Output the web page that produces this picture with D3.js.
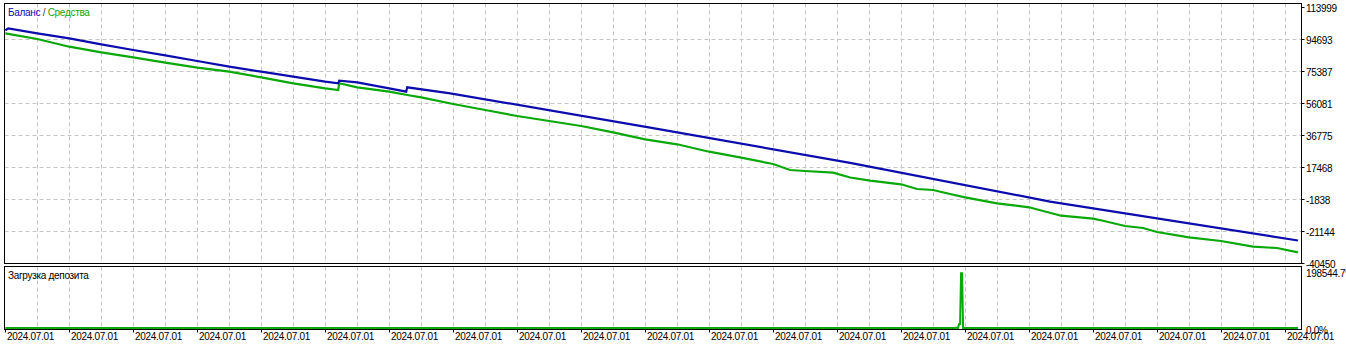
<!DOCTYPE html>
<html>
<head>
<meta charset="utf-8">
<script src="https://cdn.jsdelivr.net/npm/d3@7"></script>
<style>
	body { margin: 0; background: #fff; }
	svg text { font-family: "Liberation Sans", Arial, sans-serif; font-size: 10px; letter-spacing: -0.3px; }
</style>
</head>
<body>
<svg id="chart" width="1346" height="346"></svg>
<script>
/* balance curve: [deal index, balance] */
const balance = [
	[0, 100000], [3, 101028], [32, 98132], [64, 95115], [96, 91495], [128, 88056],
	[160, 84859], [192, 81420], [224, 77981], [256, 74964], [288, 71948], [320, 68931],
	[333, 67966], [334, 69534], [352, 68569], [384, 64949], [401, 62898], [402, 65552],
	[445, 61932], [645, 41200], [845, 20002], [1045, -3400], [1293, -26876]
];

/* equity curve: [deal index, equity] */
const equity = [
	[0, 98132], [32, 94693], [64, 90047], [96, 86669], [128, 83652], [160, 80394],
	[192, 77377], [224, 74964], [256, 71586], [288, 67966], [320, 64949], [333, 63923],
	[334, 67966], [352, 65552], [384, 62898], [402, 60908], [416, 59519], [448, 55477],
	[480, 51857], [512, 48237], [544, 45221], [576, 42204], [608, 38403], [640, 34180],
	[672, 31163], [704, 26699], [736, 23079], [768, 19278], [785, 15658], [800, 15055],
	[828, 14029], [845, 11133], [865, 9202], [896, 7030], [912, 4195], [928, 3591],
	[945, 1178], [960, -813], [992, -4433], [1024, -6846], [1056, -11914], [1088, -13724],
	[1098, -14931], [1120, -18128], [1138, -19335], [1152, -21748], [1184, -24946],
	[1216, -27178], [1248, -30617], [1272, -31401], [1293, -33995]
];

/* deposit load, % : [deal index, load] */
const depositLoad = [
	[0, 0], [950, 0], [951, 1000], [952, 1000], [953, 0], [954, 14000], [955, 14000],
	[956, 191000], [957, 191000], [958, 0], [1293, 0]
];

const yTicks = [113999, 94693, 75387, 56081, 36775, 17468, -1838, -21144, -40450];
const loadTicks = [198544.7, 0];
const xTickLabels = d3.range(21).map(() => "2024.07.01");

const blueColor = "#0c0cad";
const greenColor = "#0aa80a";
const gridColor = "#c4c4c4";

const svg = d3.select("#chart");

const left = 4.5, right = 1301.5;
const mainTop = 3.5, mainBottom = 263.5;
const loadTop = 266.5, loadBottom = 329.5;

const x = d3.scaleLinear().domain([0, 1293]).range([5.3, 1298]);
const y = d3.scaleLinear().domain([-40450, 113999]).range([263, 7]);
const yLoad = d3.scaleLinear().domain([0, 198544.7]).range([328, 271]);

// vertical grid every 32 deals, labels every 64
const gridIdx = d3.range(32, 1293, 32);
const tickIdx = d3.range(0, 1293, 64);

// dashed grid, main panel
svg.append("g")
	.selectAll("line")
	.data(gridIdx)
	.join("line")
	.attr("x1", d => Math.round(x(d)) + 0.5)
	.attr("x2", d => Math.round(x(d)) + 0.5)
	.attr("y1", mainTop)
	.attr("y2", mainBottom)
	.attr("stroke", gridColor)
	.attr("stroke-dasharray", "4 3");

svg.append("g")
	.selectAll("line")
	.data(yTicks.slice(1, -1))
	.join("line")
	.attr("x1", left)
	.attr("x2", right)
	.attr("y1", d => Math.round(y(d)) + 0.5)
	.attr("y2", d => Math.round(y(d)) + 0.5)
	.attr("stroke", gridColor)
	.attr("stroke-dasharray", "4 3");

// dashed grid, deposit load panel
svg.append("g")
	.selectAll("line")
	.data(gridIdx)
	.join("line")
	.attr("x1", d => Math.round(x(d)) + 0.5)
	.attr("x2", d => Math.round(x(d)) + 0.5)
	.attr("y1", loadTop)
	.attr("y2", loadBottom)
	.attr("stroke", gridColor)
	.attr("stroke-dasharray", "4 3");

// curves
const line = d3.line().x(d => x(d[0])).y(d => y(d[1]));
const loadLine = d3.line().x(d => x(d[0])).y(d => yLoad(d[1]));

svg.append("path")
	.datum(equity)
	.attr("d", line)
	.attr("fill", "none")
	.attr("stroke", greenColor)
	.attr("stroke-width", 2.2);

svg.append("path")
	.datum(balance)
	.attr("d", line)
	.attr("fill", "none")
	.attr("stroke", blueColor)
	.attr("stroke-width", 2.2);

svg.append("path")
	.datum(depositLoad)
	.attr("d", loadLine)
	.attr("fill", "none")
	.attr("stroke", greenColor)
	.attr("stroke-width", 2);

// panel frames
svg.append("rect")
	.attr("x", left).attr("y", mainTop)
	.attr("width", right - left).attr("height", mainBottom - mainTop)
	.attr("fill", "none").attr("stroke", "#000");

svg.append("rect")
	.attr("x", left).attr("y", loadTop)
	.attr("width", right - left).attr("height", loadBottom - loadTop)
	.attr("fill", "none").attr("stroke", "#000");

// right axis, main panel
const yAxis = svg.append("g");
yAxis.selectAll("line")
	.data(yTicks)
	.join("line")
	.attr("x1", right)
	.attr("x2", right + 3)
	.attr("y1", d => Math.round(y(d)) + 0.5)
	.attr("y2", d => Math.round(y(d)) + 0.5)
	.attr("stroke", "#000");
yAxis.selectAll("text")
	.data(yTicks)
	.join("text")
	.attr("x", 1306)
	.attr("y", d => y(d) + 5)
	.attr("fill", "#000")
	.text(d => d);

// right axis, deposit load
svg.append("g")
	.selectAll("text")
	.data(loadTicks)
	.join("text")
	.attr("x", 1306)
	.attr("y", d => yLoad(d) + 5.5)
	.attr("fill", "#000")
	.text(d => d.toFixed(1) + "%");

// bottom axis
const xAxis = svg.append("g");
xAxis.selectAll("line")
	.data(tickIdx)
	.join("line")
	.attr("x1", d => Math.round(x(d)) + 0.5)
	.attr("x2", d => Math.round(x(d)) + 0.5)
	.attr("y1", loadBottom)
	.attr("y2", loadBottom + 3)
	.attr("stroke", "#000");
xAxis.selectAll("text")
	.data(tickIdx)
	.join("text")
	.attr("x", d => Math.round(x(d)) + 2)
	.attr("y", 340)
	.attr("fill", "#000")
	.text((d, i) => xTickLabels[i]);

// legends
const legend = svg.append("text").attr("x", 8).attr("y", 16);
legend.append("tspan").attr("fill", blueColor).text("Баланс");
legend.append("tspan").attr("fill", "#333").text(" / ");
legend.append("tspan").attr("fill", greenColor).text("Средства");

svg.append("text")
	.attr("x", 8)
	.attr("y", 279)
	.attr("fill", "#000")
	.text("Загрузка депозита");
</script>
</body>
</html>
